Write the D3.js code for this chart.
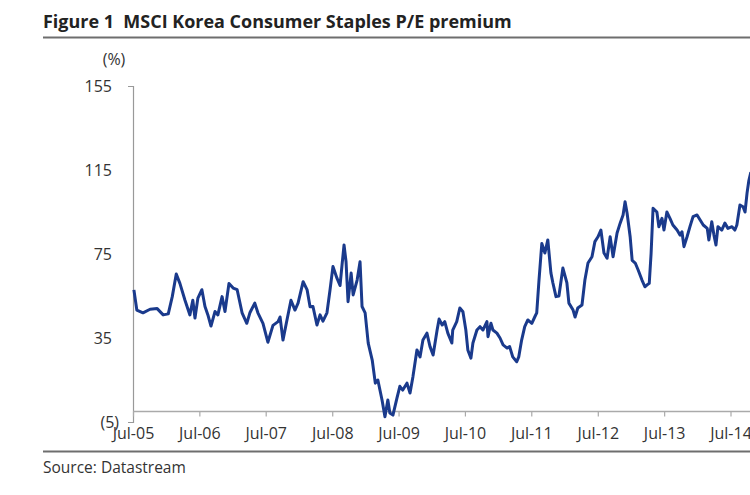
<!DOCTYPE html>
<html>
<head>
<meta charset="utf-8">
<script src="https://cdn.jsdelivr.net/npm/d3@7"></script>
<style>
  html, body { margin: 0; padding: 0; background: #fff; }
  svg { display: block; }
  text { font-family: "Open Sans", "Noto Sans", sans-serif; fill: #333; }
</style>
</head>
<body>
<svg id="chart" width="750" height="495"></svg>
<script>
const title = "Figure 1  MSCI Korea Consumer Staples P/E premium";
const source = "Source: Datastream";
const unitLabel = "(%)";

const yTicks = [-5, 35, 75, 115, 155];
const xTickDates = ["2005-07-01","2006-07-01","2007-07-01","2008-07-01","2009-07-01",
                    "2010-07-01","2011-07-01","2012-07-01","2013-07-01","2014-07-01"];

const dates = [
"2005-07-06","2005-07-22","2005-08-25","2005-10-03","2005-11-11","2005-12-14","2006-01-11","2006-02-02","2006-02-24","2006-03-16",
"2006-04-13","2006-05-10","2006-05-26","2006-06-07","2006-06-23","2006-07-15","2006-08-01","2006-08-17","2006-09-03","2006-09-25",
"2006-10-11","2006-11-03","2006-11-19","2006-12-11","2007-01-03","2007-01-25","2007-02-21","2007-03-19","2007-04-05","2007-05-02",
"2007-05-19","2007-06-16","2007-07-13","2007-08-10","2007-09-07","2007-09-18","2007-10-04","2007-10-26","2007-11-17","2007-12-09",
"2007-12-26","2008-01-23","2008-02-14","2008-03-01","2008-03-17","2008-04-08","2008-04-25","2008-05-11","2008-06-02","2008-06-19",
"2008-07-05","2008-07-27","2008-08-13","2008-08-24","2008-09-04","2008-09-15","2008-09-26","2008-10-13","2008-10-24","2008-11-15",
"2008-12-01","2008-12-12","2008-12-29","2009-01-15","2009-02-06","2009-02-23","2009-03-09","2009-04-01","2009-04-17","2009-05-03",
"2009-05-14","2009-05-31","2009-06-22","2009-07-08","2009-07-24","2009-08-16","2009-09-02","2009-09-18","2009-10-10","2009-10-27",
"2009-11-12","2009-12-04","2009-12-21","2010-01-07","2010-01-29","2010-02-09","2010-02-26","2010-03-12","2010-03-29","2010-04-20",
"2010-04-25","2010-05-17","2010-06-03","2010-06-20","2010-07-06","2010-07-17","2010-08-03","2010-08-14","2010-09-05","2010-09-22",
"2010-10-08","2010-10-30","2010-11-05","2010-11-21","2010-12-02","2010-12-24","2011-01-10","2011-01-27","2011-02-18","2011-03-04",
"2011-03-21","2011-04-12","2011-04-23","2011-05-09","2011-05-26","2011-06-12","2011-07-04","2011-07-20","2011-07-31","2011-08-12",
"2011-08-28","2011-09-14","2011-09-30","2011-10-17","2011-10-28","2011-11-14","2011-11-30","2011-12-22","2012-01-13","2012-01-24",
"2012-02-16","2012-02-27","2012-03-13","2012-04-05","2012-04-21","2012-05-08","2012-05-30","2012-06-15","2012-07-02","2012-07-18",
"2012-08-04","2012-08-21","2012-09-07","2012-09-23","2012-10-15","2012-11-01","2012-11-17","2012-11-28","2012-12-09","2012-12-26",
"2013-01-06","2013-01-23","2013-02-08","2013-03-01","2013-03-17","2013-03-28","2013-04-10","2013-04-20","2013-05-01","2013-05-22",
"2013-06-02","2013-06-19","2013-06-30","2013-07-16","2013-08-02","2013-08-18","2013-09-10","2013-09-26","2013-10-07","2013-10-18",
"2013-11-04","2013-11-20","2013-12-07","2013-12-29","2014-01-15","2014-02-01","2014-02-23","2014-03-04","2014-03-20","2014-04-01",
"2014-04-12","2014-04-23","2014-05-14","2014-05-31","2014-06-17","2014-07-09","2014-07-25","2014-08-05","2014-08-22","2014-09-08",
"2014-09-19","2014-09-30","2014-10-10","2014-10-21"
];
const premium = [
57.9,48.3,47.0,48.7,49.0,46.0,46.5,54.7,65.5,61.0,
53.0,46.0,53.0,44.5,54.0,58.0,50.0,46.0,40.7,47.6,
46.0,54.7,47.6,61.0,58.8,58.0,47.0,42.0,47.0,51.6,
47.0,42.0,33.0,41.0,42.8,45.0,34.0,43.6,53.0,48.3,
51.6,61.8,57.9,49.9,50.0,41.2,46.0,43.0,47.0,58.0,
69.0,63.5,60.0,69.8,79.3,71.3,52.3,65.9,55.5,62.6,
71.3,50.0,47.0,32.6,24.5,13.5,15.0,5.5,-2.5,5.5,
-0.7,-1.7,6.4,12.0,10.2,13.5,8.8,16.6,29.3,26.0,
34.0,37.3,30.9,26.9,38.8,44.0,41.2,42.8,37.3,32.6,
38.8,42.8,49.3,47.5,38.8,29.3,25.4,32.6,38.8,40.4,
38.8,42.8,35.6,42.0,38.8,37.3,35.0,31.7,30.2,30.9,
26.0,23.7,26.0,34.0,40.4,43.6,42.0,45.0,47.0,62.0,
80.0,75.5,81.7,66.0,61.2,54.7,55.0,68.3,61.2,51.6,
48.3,45.0,49.3,50.7,62.6,70.7,73.7,80.9,83.2,86.4,
75.5,73.0,83.2,73.7,85.0,89.7,93.6,99.9,94.5,83.2,
72.0,70.7,67.4,62.6,59.4,60.2,61.0,75.0,96.8,95.0,
88.0,92.0,86.4,95.0,92.0,88.8,86.4,84.0,85.6,78.5,
83.2,88.0,92.8,93.6,91.2,88.8,87.2,81.7,90.4,84.0,
79.3,88.0,86.4,89.7,87.2,88.0,86.4,88.8,98.3,97.5,
95.0,104.0,110.0,114.0
];

const parse = d3.timeParse("%Y-%m-%d");
const fmtX = d3.timeFormat("%b-%y");
const series = dates.map((d, i) => ({ date: parse(d), value: premium[i] }));
const xTicks = xTickDates.map(parse);

const svg = d3.select("#chart");

// Title
const t = svg.append("text")
  .attr("x", 43).attr("y", 28)
  .attr("font-size", 16).attr("font-weight", 700)
  .style("fill", "#222")
  .attr("xml:space", "preserve")
  .text(title);
const tw = t.node().getComputedTextLength();
t.attr("font-size", 16 * 469 / tw);

svg.append("line").attr("x1", 43).attr("x2", 750).attr("y1", 37.5).attr("y2", 37.5)
  .attr("stroke", "#6e6e6e").attr("stroke-width", 2);

svg.append("line").attr("x1", 43).attr("x2", 750).attr("y1", 451.5).attr("y2", 451.5)
  .attr("stroke", "#6e6e6e").attr("stroke-width", 2);

svg.append("text").attr("x", 43).attr("y", 473)
  .attr("font-size", 15.5).style("fill", "#333").text(source);

// Scales
const x = d3.scaleTime().domain([xTicks[0], xTicks[xTicks.length - 1]]).range([133, 730.5]);
const y = d3.scaleLinear().domain([-5, 155]).range([422, 86]);

// Unit label
svg.append("text").attr("x", 114).attr("y", 65)
  .attr("text-anchor", "middle").attr("font-size", 16).text(unitLabel);

// Y axis
const yAxis = d3.axisLeft(y).tickValues(yTicks)
  .tickSizeInner(0).tickSizeOuter(5).tickPadding(21)
  .tickFormat(v => v < 0 ? "(" + Math.abs(v) + ")" : String(v));
const gy = svg.append("g").attr("transform", "translate(133,0)").call(yAxis);
gy.select(".domain").attr("stroke", "#999").attr("stroke-width", 1.2);
gy.selectAll(".tick text").attr("font-size", 16).style("fill", "#333")
  .attr("font-family", "\"Open Sans\", sans-serif")
  .attr("dx", v => v < 0 ? 7 : 0);

// X axis at zero line
const xAxis = d3.axisBottom(x).tickValues(xTicks).tickSizeInner(5).tickSizeOuter(0).tickFormat(fmtX);
const gx = svg.append("g").attr("transform", `translate(0,${y(0)})`).call(xAxis);
gx.select(".domain").attr("d", `M133,0H750`).attr("stroke", "#aaa").attr("stroke-width", 1.5);
gx.selectAll(".tick line").attr("stroke", "#aaa").attr("stroke-width", 1.2);
gx.selectAll(".tick text").attr("font-size", 16).style("fill", "#333")
  .attr("font-family", "\"Open Sans\", sans-serif")
  .attr("y", 0).attr("dy", null)
  .attr("transform", `translate(0,${439 - y(0)})`);

// Line
const line = d3.line().x(d => x(d.date)).y(d => y(d.value));
svg.append("path").datum(series)
  .attr("fill", "none").attr("stroke", "#1a3a8c")
  .attr("stroke-width", 3).attr("stroke-linejoin", "round")
  .attr("d", line);
</script>
</body>
</html>
